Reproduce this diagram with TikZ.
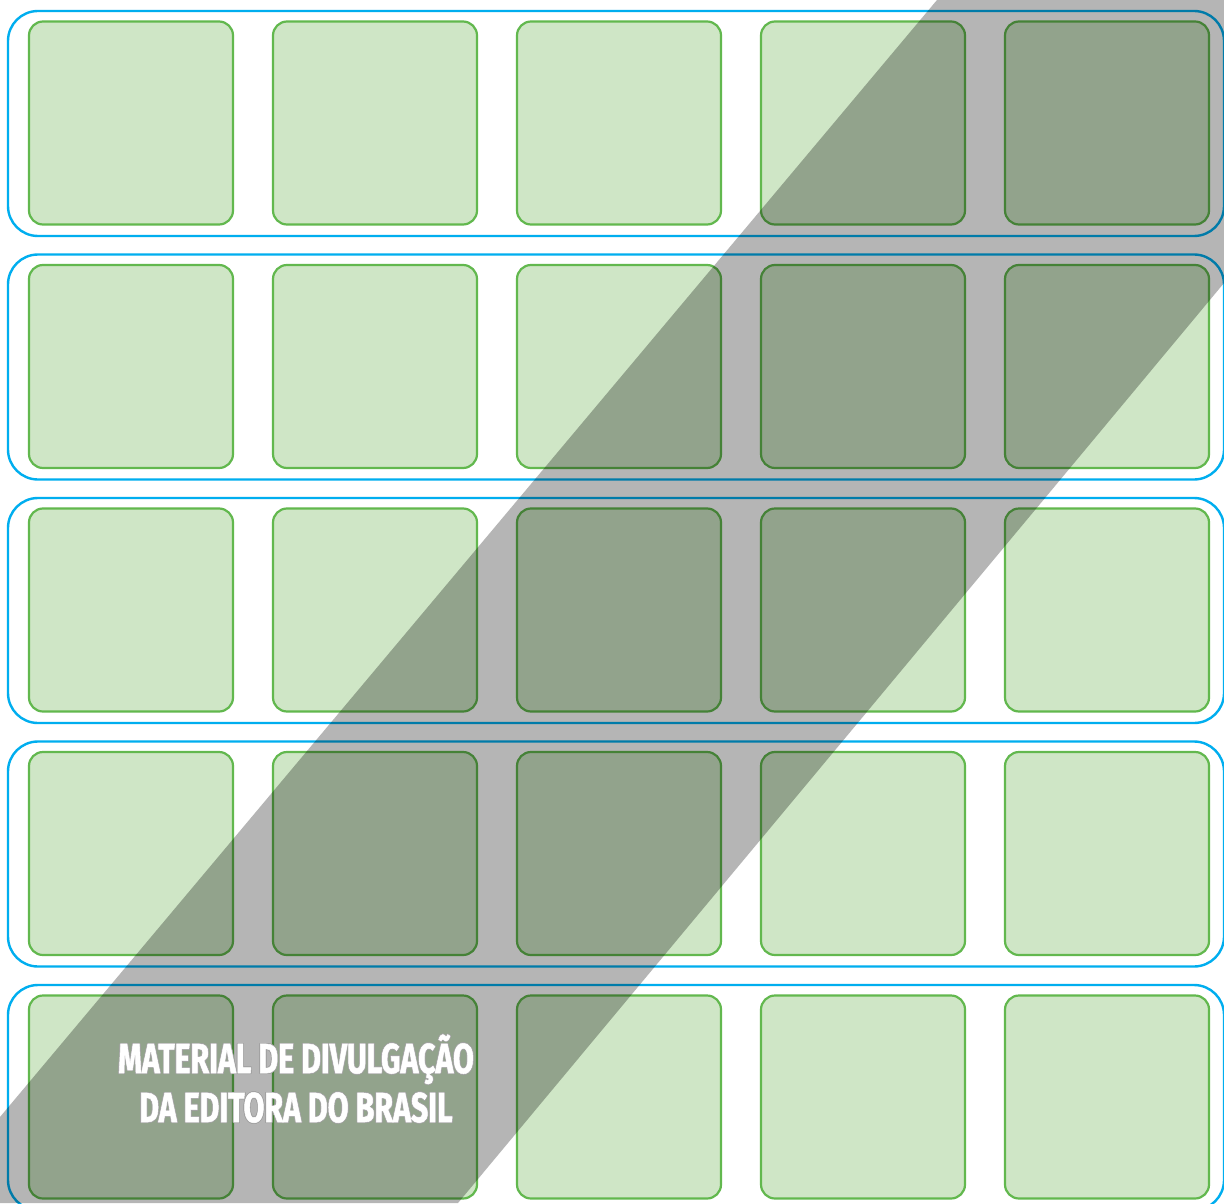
\documentclass[tikz,border=0pt]{standalone}
\usepackage{fontspec}
\usepackage{contour}
\newfontfamily\stampfont{Fira Sans}[FakeStretch=0.72, FakeBold=1.2]
\usetikzlibrary{positioning}
\definecolor{rowblue}{HTML}{00AEEF}
\definecolor{cellline}{HTML}{62B84E}
\definecolor{cellfill}{HTML}{CFE6C6}
\definecolor{bandgrey}{HTML}{B5B5B5}
\definecolor{stampline}{HTML}{A2A2A2}
\contourlength{0.35pt}
\tikzset{
  rowbox/.style={draw=rowblue, line width=1.2pt, rounded corners=15pt, minimum width=608pt, minimum height=112.5pt, inner sep=0pt},
  cellbox/.style={draw=cellline, fill=cellfill, line width=1.1pt, rounded corners=7pt, minimum width=102pt, minimum height=101.5pt, inner sep=0pt},
  band/.style={fill=bandgrey, draw=none},
  stamp/.style={font=\stampfont\bfseries\fontsize{21}{24.5}\selectfont, text=white, align=center, inner sep=0pt},
}

\begin{document}
\begin{tikzpicture}[x=0.5pt, y=-0.5pt]
  \useasboundingbox (0,0) rectangle (1224,1203);
  \fill[white] (0,0) rectangle (1224,1203);
  \clip (0,0) rectangle (1224,1203);
  % rows of cells
  \foreach \r in {1,...,5} {
    \node[rowbox] (row\r) at (616,{123.5+243.5*(\r-1)}) {};
    \foreach \c in {1,...,5} {
      \node[cellbox] (cell-\r-\c) at ({131+244*(\c-1)},{123+243.5*(\r-1)}) {};
    }
  }
  % diagonal band
  \begin{scope}[blend mode=multiply]
    \fill[band] (937,0) -- (1224,0) -- (1224,283) -- (458,1203) -- (0,1203) -- (0,1117) -- cycle;
  \end{scope}
  \node[stamp] (notice) at (296,1079) {\contour{stampline}{MATERIAL DE DIVULGAÇÃO}\\\contour{stampline}{DA EDITORA DO BRASIL}};
\end{tikzpicture}
\end{document}
